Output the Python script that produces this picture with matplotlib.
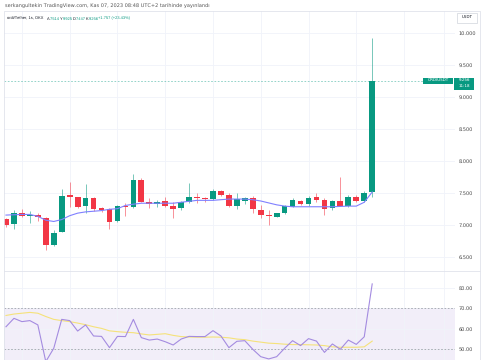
import matplotlib.pyplot as plt
from matplotlib.patches import Rectangle
from matplotlib.lines import Line2D

plt.rcParams['text.hinting'] = 'no_hinting'
plt.rcParams['text.hinting_factor'] = 1

# OHLC (ordi/Tether, 1s, OKX)
opens = [7.094, 7.02, 7.197, 7.15, 7.16, 7.12, 6.70, 6.89, 7.48, 7.44,
         7.30, 7.43, 7.265, 7.25, 7.07, 7.306, 7.29, 7.71, 7.37, 7.34,
         7.38, 7.306, 7.266, 7.36, 7.44, 7.42, 7.41, 7.54, 7.47, 7.30,
         7.385, 7.42, 7.24, 7.16, 7.135, 7.20, 7.29, 7.385, 7.33, 7.44,
         7.395, 7.265, 7.375, 7.306, 7.447, 7.38, 7.514]
highs = [7.109, 7.24, 7.255, 7.22, 7.19, 7.13, 6.93, 7.567, 7.67, 7.447,
         7.64, 7.447, 7.29, 7.266, 7.317, 7.35, 7.80, 7.734, 7.43, 7.395,
         7.45, 7.37, 7.385, 7.656, 7.50, 7.447, 7.567, 7.55, 7.50, 7.50,
         7.447, 7.458, 7.317, 7.24, 7.20, 7.317, 7.42, 7.395, 7.463, 7.51,
         7.42, 7.395, 7.76, 7.473, 7.473, 7.536, 9.925]
lows = [6.978, 6.94, 7.135, 7.03, 7.06, 6.614, 6.67, 6.89, 7.29, 7.266,
        7.19, 7.22, 7.213, 6.95, 7.056, 7.14, 7.266, 7.36, 7.266, 7.29,
        7.28, 7.11, 7.24, 7.344, 7.344, 7.37, 7.395, 7.458, 7.28, 7.25,
        7.33, 7.19, 7.12, 7.005, 7.135, 7.177, 7.28, 7.323, 7.306, 7.37,
        7.16, 7.24, 7.30, 7.28, 7.37, 7.36, 7.447]
closes = [7.005, 7.19, 7.15, 7.16, 7.125, 6.70, 6.875, 7.46, 7.44, 7.28,
          7.43, 7.25, 7.24, 7.056, 7.30, 7.28, 7.71, 7.37, 7.34, 7.364,
          7.306, 7.25, 7.37, 7.44, 7.43, 7.41, 7.54, 7.47, 7.30, 7.406,
          7.42, 7.25, 7.16, 7.145, 7.19, 7.30, 7.395, 7.33, 7.43, 7.395,
          7.255, 7.375, 7.306, 7.44, 7.38, 7.50, 9.256]
ma_line = [7.16, 7.165, 7.17, 7.17, 7.14, 7.08, 7.06, 7.09, 7.15, 7.19,
           7.21, 7.22, 7.23, 7.25, 7.26, 7.31, 7.33, 7.345, 7.345, 7.345,
           7.345, 7.345, 7.36, 7.375, 7.39, 7.39, 7.39, 7.40, 7.41, 7.41,
           7.41, 7.40, 7.38, 7.35, 7.32, 7.30, 7.29, 7.29, 7.29, 7.29,
           7.29, 7.29, 7.295, 7.30, 7.30, 7.36, 7.52]
rsi = [61.0, 65.1, 63.5, 64.0, 61.9, 44.0, 50.5, 64.6, 64.0, 58.9,
       61.9, 56.5, 56.3, 50.8, 56.3, 56.2, 64.6, 55.7, 54.5, 55.0,
       53.7, 52.1, 55.0, 56.3, 56.2, 56.2, 59.1, 56.5, 50.8, 53.9,
       54.2, 50.0, 46.4, 45.3, 46.4, 50.5, 54.2, 51.8, 55.2, 54.0,
       48.5, 52.6, 50.0, 54.5, 52.4, 56.1, 81.9]
rsi_ma = [66.5, 67.2, 67.6, 68.0, 67.6, 66.0, 64.6, 64.0, 63.5, 62.8,
          62.0, 61.0, 60.2, 59.0, 58.6, 58.3, 58.1, 57.5, 57.0, 57.3,
          57.6, 56.8, 56.2, 56.0, 55.9, 55.9, 56.0, 55.9, 55.6, 55.0,
          54.7, 54.0, 53.5, 53.0, 52.8, 52.5, 52.3, 52.3, 52.2, 52.1,
          51.8, 51.2, 51.0, 51.0, 51.0, 51.2, 54.0]
price_ticks = [6.5, 7.0, 7.5, 8.0, 8.5, 9.0, 9.5, 10.0]
rsi_ticks = [50, 60, 70, 80]
time_grid = [2, 8, 14, 20, 26, 32, 38, 44, 50, 55]

UP = '#089981'
DOWN = '#f23645'
GRID = '#f0f3fa'
TXT = '#4a4a4a'

W, H = 485, 360


def fx(x):
    return x / W


def fy(y):
    return 1 - y / H


fig = plt.figure(figsize=(4.85, 3.6), dpi=100)
ax = fig.add_axes([fx(4), fy(270.7), 451 / W, (270.7 - 11) / H])
ax2 = fig.add_axes([fx(4), 0, 451 / W, (360 - 270.7) / H])

# candles
idx = list(range(len(opens)))
cols = [UP if c >= o else DOWN for o, c in zip(opens, closes)]
bottoms = [min(o, c) for o, c in zip(opens, closes)]
heights = [max(abs(c - o), 0.012) for o, c in zip(opens, closes)]
ax.vlines(idx, lows, highs, colors=cols, lw=0.7, alpha=0.55, zorder=2)
ax.bar(idx, heights, bottom=bottoms, width=0.72, color=cols, lw=0, zorder=3)
ax.plot(idx, ma_line, color='#8080ff', lw=0.8, zorder=4)
ax.axhline(closes[-1], color=UP, lw=0.6, ls=(0, (2, 2)), alpha=0.5, zorder=1)

for a in (ax, ax2):
    a.set_xlim(-0.25, 56.4)
    for s in a.spines.values():
        s.set_visible(False)
    a.set_xticks(time_grid)
    a.tick_params(axis='x', length=0, labelbottom=False)
    a.yaxis.tick_right()
    a.tick_params(axis='y', length=0, pad=2.5, labelsize=3.3, labelcolor=TXT)
    a.grid(True, color=GRID, lw=0.6, zorder=0)
    a.set_axisbelow(True)

ax.set_ylim(6.291, 10.348)
ax.set_yticks(price_ticks)
ax.set_yticklabels([f'{v:.3f}' for v in price_ticks])

# RSI pane
ax2.set_ylim(44.78, 88.34)
ax2.axhspan(30, 70, color='#f2eef9', lw=0, zorder=0)
for lvl in (70, 50, 30):
    ax2.axhline(lvl, color='#a0a3ab', lw=0.6, ls=(0, (2, 2)), zorder=1)
ax2.plot(idx, rsi_ma, color='#f5e27a', lw=0.8, zorder=2)
ax2.plot(idx, rsi, color='#a48be0', lw=0.8, zorder=3)
ax2.set_yticks(rsi_ticks)
ax2.set_yticklabels([f'{v:.2f}' for v in rsi_ticks])

# frame and pane separator
fig.add_artist(Rectangle((fx(4), fy(360)), 476 / W, 349 / H, transform=fig.transFigure,
                         fill=False, edgecolor='#e0e3eb', lw=0.6))
fig.add_artist(Line2D([fx(4), fx(480)], [fy(270.7), fy(270.7)],
                      transform=fig.transFigure, color='#e0e3eb', lw=0.6))

# USDT box
fig.add_artist(Rectangle((fx(457), fy(23)), 20 / W, 9.5 / H, transform=fig.transFigure,
                         fill=True, facecolor='white', edgecolor='#d1d4dc', lw=0.5))
fig.text(fx(467), fy(18.3), 'USDT', fontsize=3.2, color='#131722', ha='center', va='center')

# last price labels
fig.add_artist(Rectangle((fx(423), fy(84.2)), 30.5 / W, 6.5 / H, transform=fig.transFigure,
                         facecolor=UP, lw=0))
fig.text(fx(438.2), fy(81.0), 'ORDIUSDT', fontsize=2.8, color='white', ha='center', va='center')
fig.add_artist(Rectangle((fx(454), fy(89.5)), 20 / W, 11.8 / H, transform=fig.transFigure,
                         facecolor=UP, lw=0))
fig.text(fx(464), fy(80.8), f'{closes[-1]:.3f}', fontsize=3.2, color='white', ha='center', va='center')
fig.text(fx(464), fy(86.4), '11:18', fontsize=3.2, color='white', ha='center', va='center')

# header
fig.text(fx(5), fy(6), 'serkangultekin TradingView.com, Kas 07, 2023 08:48 UTC+2 tarihinde yayınlandı',
         fontsize=3.6, color='#555555', va='center')

parts = [(7.0, 'ordi/Tether, 1s, OKX', '#131722'),
         (46.5, 'A', '#131722'), (49.4, f'{opens[-1]:.3f}', UP),
         (59.9, 'Y', '#131722'), (62.8, f'{max(highs):.3f}', UP),
         (72.5, 'D', '#131722'), (75.6, f'{lows[-1]:.3f}', UP),
         (85.5, 'K', '#131722'), (88.5, f'{closes[-1]:.3f}', UP),
         (98.3, '+1.757 (+23.43%)', UP)]
for x, s, c in parts:
    fig.text(fx(x), fy(18.5), s, fontsize=2.6, color=c, va='center',
             family='Liberation Sans')

fig.savefig('out.png', dpi=100, facecolor='white')
